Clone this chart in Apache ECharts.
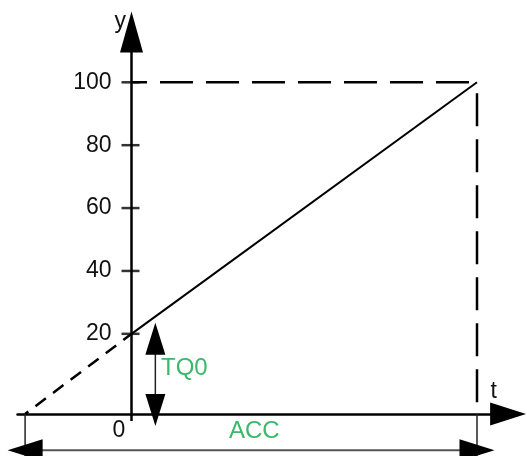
<!DOCTYPE html>
<html>
<head>
<meta charset="utf-8">
<script src="https://cdn.jsdelivr.net/npm/echarts@6/dist/echarts.min.js"></script>
<style>
  html, body { margin: 0; padding: 0; background: #fff; }
  #chart { width: 527px; height: 456px; }
</style>
</head>
<body>
<div id="chart"></div>
<script>
// Ramp of y from the start value TQ0 up to 100 over the ACC time
const yTicks = [20, 40, 60, 80, 100];
const rampT = [0, 100];
const rampY = [20, 100];
const tq0Value = 20;
const fullValue = 100;
const tAxisLevel = -5.5;     // y value where the t axis is drawn
const tIntercept = -30.8;    // where the extended ramp meets the t axis
const tq0MarkerT = 6.9;      // t position of the TQ0 dimension arrow
const accLevel = -17;        // y value of the ACC dimension arrow
const guideBottom = -20;

const FONT = "'Liberation Sans', Arial, sans-serif";
const black = '#000';
const GRID_LEFT = 17.5;

const chart = echarts.init(document.getElementById('chart'), null, { renderer: 'canvas' });

function arrowEnd(t, y, rot, size, offset) {
  return { value: [t, y], symbol: 'triangle', symbolRotate: rot, symbolSize: size, symbolOffset: offset || [0, 0] };
}

const option = {
  animation: false,
  backgroundColor: '#fff',
  grid: { left: GRID_LEFT, right: 18.9, top: 32, bottom: 42, containLabel: false, outerBoundsMode: 'none' },
  xAxis: {
    type: 'value', min: -33, max: 109,
    splitLine: { show: false },
    axisLabel: { show: false },
    axisTick: { show: true, customValues: [0], length: 7, lineStyle: { color: black, width: 2.5 } },
    axisLine: {
      onZero: false,
      symbol: ['none', 'triangle'], symbolSize: [23, 36],
      lineStyle: { color: black, width: 2.5 }
    }
  },
  yAxis: {
    type: 'value', min: tAxisLevel, max: 116,
    position: 'left', offset: 0,
    splitLine: { show: false },
    axisTick: { show: false },
    axisLabel: {
      customValues: yTicks, margin: 20,
      color: '#111', fontFamily: FONT, fontSize: 23
    },
    axisLine: {
      show: true, onZero: false,
      symbol: ['none', 'triangle'], symbolSize: [23, 41],
      lineStyle: { color: black, width: 2.5 }
    }
  },
  series: [
    {
      name: 'ramp', type: 'line', clip: false, symbol: 'none',
      data: rampT.map((t, i) => [t, rampY[i]]),
      lineStyle: { color: black, width: 2 }, z: 5
    },
    {
      name: 'extension', type: 'line', clip: false, symbol: 'none',
      data: [[tIntercept, tAxisLevel], [0, tq0Value]],
      lineStyle: { color: black, width: 2.5, type: [13, 9], dashOffset: 9 }
    },
    {
      name: 'top guide', type: 'line', clip: false, symbol: 'none',
      data: [[0, fullValue], [rampT[1], fullValue]],
      lineStyle: { color: black, width: 2.5, type: [33, 13], dashOffset: 17.5 }
    },
    {
      name: 'end guide', type: 'line', clip: false, symbol: 'none',
      data: [[rampT[1], fullValue], [rampT[1], tAxisLevel]],
      lineStyle: { color: black, width: 2.5, type: [33, 13], dashOffset: 35 }
    },
    {
      name: 'TQ0', type: 'line', clip: false,
      data: [
        arrowEnd(tq0MarkerT, tq0Value, 0, [20, 32], [0, 5]),
        arrowEnd(tq0MarkerT, tAxisLevel, 180, [20, 32], [0, -4])
      ],
      itemStyle: { color: black, borderWidth: 0 },
      lineStyle: { color: '#222', width: 1.5 }, z: 6
    },
    {
      name: 'ACC', type: 'line', clip: false,
      data: [arrowEnd(tIntercept, accLevel, 90, [22, 35]), arrowEnd(rampT[1], accLevel, -90, [22, 35])],
      itemStyle: { color: black, borderWidth: 0 },
      lineStyle: { color: '#555', width: 2 }, z: 6
    },
    {
      name: 'start mark', type: 'line', clip: false, symbol: 'none',
      data: [[tIntercept, tAxisLevel], [tIntercept, guideBottom]],
      lineStyle: { color: '#222', width: 1.5 }
    },
    {
      name: 'end mark', type: 'line', clip: false, symbol: 'none',
      data: [[rampT[1], tAxisLevel], [rampT[1], guideBottom]],
      lineStyle: { color: '#222', width: 1.5 }
    },
    {
      name: 'y ticks', type: 'scatter', clip: false,
      data: yTicks.map(v => [0, v]),
      symbol: 'rect', symbolSize: [18, 2.5], symbolOffset: [-1, 0],
      itemStyle: { color: black }, z: 7
    }
  ],
  graphic: [
    { type: 'text', x: 114.5, y: 22, style: { text: 'y', font: '23px ' + FONT, fill: '#111', verticalAlign: 'middle', align: 'left' } },
    { type: 'text', x: 490.5, y: 391.4, style: { text: 't', font: '23px ' + FONT, fill: '#111', verticalAlign: 'middle', align: 'left' } },
    { type: 'text', x: 112.5, y: 430.8, style: { text: '0', font: '23px ' + FONT, fill: '#111', verticalAlign: 'middle', align: 'left' } },
    { type: 'text', x: 161, y: 368.5, style: { text: 'TQ0', font: '24px ' + FONT, fill: '#3cb86b', verticalAlign: 'middle', align: 'left' } },
    { type: 'text', x: 229, y: 431.5, style: { text: 'ACC', font: '24px ' + FONT, fill: '#3cb86b', verticalAlign: 'middle', align: 'left' } }
  ]
};

chart.setOption(option);

// Move the y axis (line and labels) onto t = 0
const zeroX = chart.convertToPixel({ xAxisIndex: 0 }, 0);
chart.setOption({ yAxis: { offset: GRID_LEFT - zeroX } });
</script>
</body>
</html>
